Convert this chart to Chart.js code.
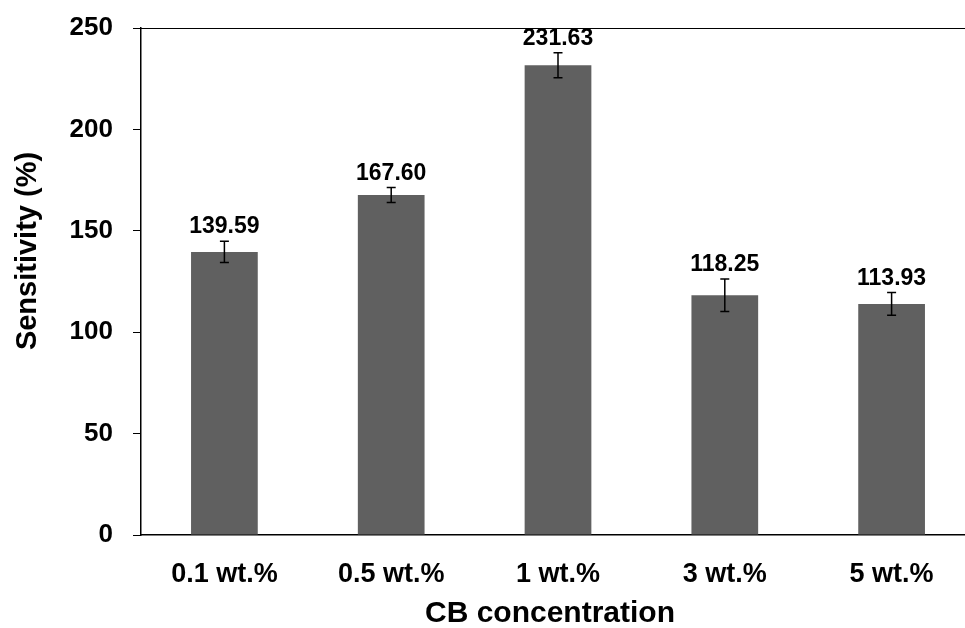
<!DOCTYPE html>
<html>
<head>
<meta charset="utf-8">
<script src="https://cdn.jsdelivr.net/npm/chart.js@4/dist/chart.umd.min.js"></script>
<style>
  html, body { margin: 0; padding: 0; background: #fff; }
  #wrap { width: 965px; height: 628px; overflow: hidden; position: relative; }
  canvas { display: block; }
</style>
</head>
<body>
<div id="wrap"><canvas id="c" width="975" height="628"></canvas></div>
<script>
const categories = ['0.1 wt.%', '0.5 wt.%', '1 wt.%', '3 wt.%', '5 wt.%'];
const sensitivity = [139.59, 167.60, 231.63, 118.25, 113.93];
const errors = [5.2, 3.7, 6.2, 8.0, 5.6];
const yTicks = [0, 50, 100, 150, 200, 250];
const xTitle = 'CB concentration';
const yTitle = 'Sensitivity (%)';

const FONT = "'Liberation Sans', Arial, sans-serif";

// Error bars with caps, plus the value printed above each bar
const errorBarsAndLabels = {
  id: 'errorBarsAndLabels',
  afterDatasetsDraw(chart) {
    const { ctx, scales: { y } } = chart;
    const meta = chart.getDatasetMeta(0);
    ctx.save();
    meta.data.forEach((bar, i) => {
      const v = sensitivity[i];
      const e = errors[i];
      const x = bar.x;
      const yTop = y.getPixelForValue(v + e);
      const yBot = y.getPixelForValue(v - e);
      ctx.strokeStyle = '#000';
      ctx.lineWidth = 1.5;
      ctx.beginPath();
      ctx.moveTo(x, yTop); ctx.lineTo(x, yBot);
      ctx.moveTo(x - 4.5, yTop); ctx.lineTo(x + 4.5, yTop);
      ctx.moveTo(x - 4.5, yBot); ctx.lineTo(x + 4.5, yBot);
      ctx.stroke();

      ctx.fillStyle = '#000';
      ctx.font = 'bold 23px ' + FONT;
      ctx.textAlign = 'center';
      ctx.textBaseline = 'alphabetic';
      ctx.fillText(v.toFixed(2), x, yTop - 8);
    });
    ctx.restore();
  }
};

// Top border line of the plot and the two axis titles
const frameAndTitles = {
  id: 'frameAndTitles',
  afterDraw(chart) {
    const { ctx, chartArea, scales: { y } } = chart;
    const py = Math.round(y.getPixelForValue(250)) + 0.5;
    ctx.save();
    ctx.strokeStyle = '#000';
    ctx.lineWidth = 1;
    ctx.beginPath();
    ctx.moveTo(chartArea.left, py);
    ctx.lineTo(chartArea.right, py);
    ctx.stroke();

    ctx.fillStyle = '#000';
    ctx.textAlign = 'center';
    ctx.textBaseline = 'middle';
    ctx.font = 'bold 30px ' + FONT;
    ctx.fillText(xTitle, 550, 614);

    ctx.translate(28, 251);
    ctx.rotate(-Math.PI / 2);
    ctx.font = 'bold 29px ' + FONT;
    ctx.fillText(yTitle, 0, 0);
    ctx.restore();
  }
};

new Chart(document.getElementById('c'), {
  type: 'bar',
  data: {
    labels: categories,
    datasets: [{
      data: sensitivity,
      backgroundColor: '#606060',
      borderWidth: 0,
      barPercentage: 0.4,
      categoryPercentage: 1.0
    }]
  },
  options: {
    responsive: false,
    animation: false,
    layout: { padding: { top: 28, right: 0, left: 0, bottom: 0 } },
    plugins: {
      legend: { display: false },
      tooltip: { enabled: false }
    },
    scales: {
      x: {
        grid: { display: true, drawOnChartArea: false, drawTicks: false },
        border: { display: true, color: '#000', width: 1.5 },
        ticks: {
          color: '#000',
          font: { family: FONT, size: 27, weight: 'bold' },
          padding: 23
        },
        afterFit(scale) {
          scale.height = 93;
          scale.paddingLeft = 0;
          scale.paddingRight = 0;
        }
      },
      y: {
        min: 0,
        max: 250,
        afterBuildTicks(scale) { scale.ticks = yTicks.map(v => ({ value: v })); },
        grid: { display: true, drawOnChartArea: false, drawTicks: true, tickLength: 8, color: '#000', lineWidth: 1 },
        border: { display: true, color: '#000', width: 1.5 },
        ticks: {
          color: '#000',
          font: { family: FONT, size: 26, weight: 'bold' },
          padding: 20
        },
        afterFit(scale) {
          scale.width = 141;
          scale.paddingTop = 0;
          scale.paddingBottom = 0;
        }
      }
    }
  },
  plugins: [errorBarsAndLabels, frameAndTitles]
});
</script>
</body>
</html>
